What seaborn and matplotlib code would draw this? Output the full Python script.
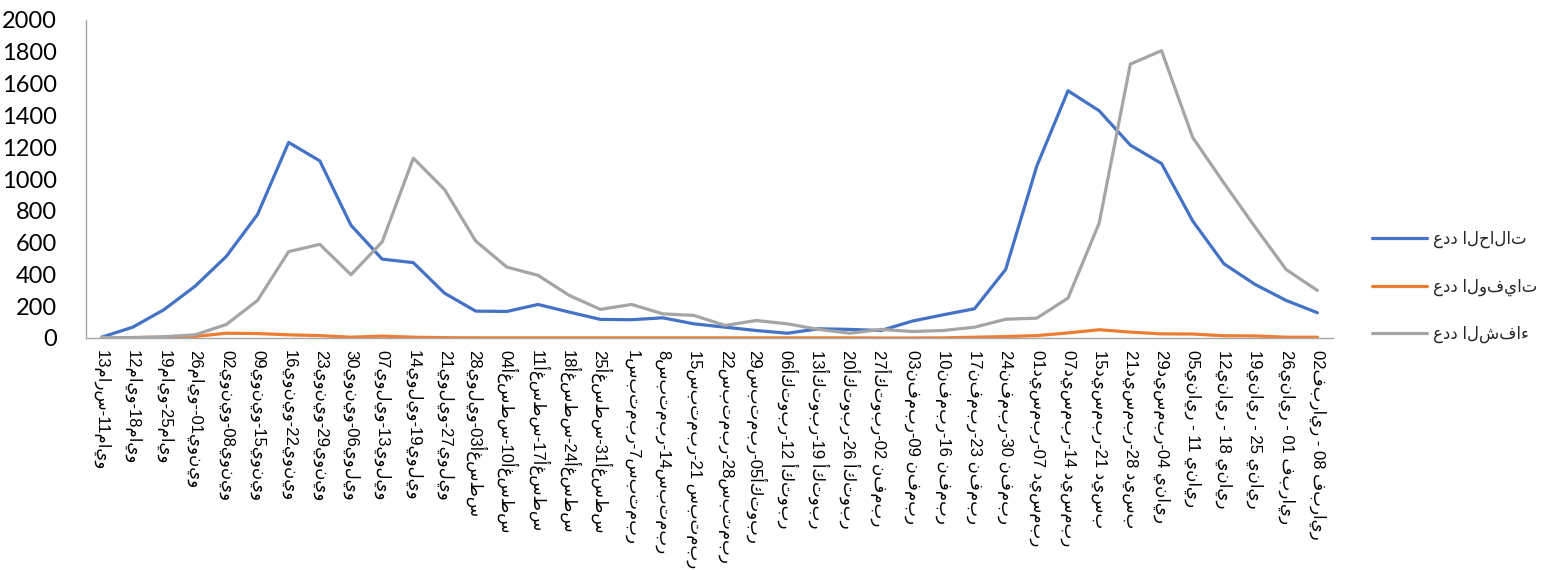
import matplotlib
matplotlib.use("Agg")
import matplotlib.pyplot as plt
import seaborn as sns
import pandas as pd

weeks = [
    "13مارس-11مايو", "12مايو-18مايو", "19مايو-25مايو", "26مايو--01يونيو",
    "02يونيو-08يونيو", "09يونيو-15يونيو", "16يونيو-22يونيو", "23يونيو-29يونيو",
    "30يونيو-06يوليو", "07يوليو-13يوليو", "14يوليو-19يوليو", "21يوليو-27يوليو",
    "28يوليو-03أغسطس", "04أغسطس-10أغسطس", "11أغسطس-17أغسطس", "18أغسطس-24أغسطس",
    "25أغسطس-31أغسطس", "1سبتمبر-7سبتمبر", "8سبتمبر-14سبتمبر", "15سبتمبر-21 سبتمبر",
    "22سبتمبر-28سبتمبر", "29سبتمبر-05أكتوبر", "06أكتوبر-12 أكتوبر", "13أكتوبر-19 أكتوبر",
    "20أكتوبر-26 أكتوبر", "27أكتوبر-02 نفمبر", "03نفمبر-09 نفمبر", "10نفمبر-16 نفمبر",
    "17نفمبر-23 نفمبر", "24نفمبر-30 نفمبر", "01ديسمبر-07 ديسمبر", "07ديسمبر-14 ديسمبر",
    "15ديسمبر-21 ديسب", "21ديسمبر-28 ديسب", "29ديسمبر-04 يناير", "05يناير - 11 يناير",
    "12يناير - 18 يناير", "19يناير - 25 يناير", "26يناير - 01 فبراير", "02فبراير - 08 فبراير",
]

cases = [5, 68, 178, 326, 513, 776, 1230, 1114, 709, 496,
         474, 282, 169, 167, 211, 163, 117, 115, 127, 89,
         68, 47, 30, 58, 54, 47, 106, 146, 184, 431,
         1082, 1555, 1429, 1213, 1097, 736, 467, 337, 236, 159]

deaths = [0, 3, 5, 10, 30, 28, 20, 15, 5, 12,
          5, 2, 1, 1, 1, 1, 1, 1, 1, 1,
          1, 1, 1, 1, 1, 0, 0, 1, 5, 9,
          15, 32, 52, 37, 26, 25, 14, 13, 5, 5]

recovered = [3, 2, 8, 20, 85, 236, 543, 589, 398, 604,
             1131, 934, 610, 446, 394, 268, 180, 211, 152, 142,
             79, 110, 89, 54, 30, 54, 41, 47, 68, 118,
             125, 251, 723, 1723, 1807, 1261, 975, 698, 430, 299]

series_names = ["عدد الحالات", "عدد الوفيات", "عدد الشفاء"]
series_colors = ["#4472C4", "#ED7D31", "#A5A5A5"]
y_ticks = list(range(0, 2001, 200))

df = pd.DataFrame({
    "week": weeks * 3,
    "value": cases + deaths + recovered,
    "series": [n for n in series_names for _ in weeks],
})

sns.set_theme(style="white")
plt.rcParams["font.family"] = ["Liberation Sans", "DejaVu Sans"]

fig = plt.figure(figsize=(15.44, 5.70), dpi=100)
ax = fig.add_axes([86 / 1544, 1 - 338 / 570, (1333 - 86) / 1544, (338 - 20) / 570])

sns.lineplot(data=df, x="week", y="value", hue="series", hue_order=series_names,
             palette=series_colors, sort=False, linewidth=2.3, ax=ax, legend=True)

ax.set_xlim(-0.5, len(weeks) - 0.5)
ax.set_ylim(0, 2000)
ax.set_yticks(y_ticks)
ax.set_yticklabels([str(t) for t in y_ticks], fontsize=17, family=["Lato", "DejaVu Sans"])
ax.set_xticks(range(len(weeks)))
ax.set_xticklabels(weeks, rotation=-90, ha="center", va="top", fontsize=12,
                   family=["Liberation Sans", "DejaVu Sans"])
ax.tick_params(axis="y", length=0, pad=21, colors="black")
ax.tick_params(axis="x", length=0, pad=9, colors="black")
ax.set_xlabel("")
ax.set_ylabel("")
for s in ["top", "right"]:
    ax.spines[s].set_visible(False)
for s in ["left", "bottom"]:
    ax.spines[s].set_color("#A6A6A6")
    ax.spines[s].set_linewidth(1.0)

handles, labels = ax.get_legend_handles_labels()
ax.get_legend().remove()
fig.legend(handles, labels, loc="center left", bbox_to_anchor=(1372 / 1544, 1 - 287 / 570),
           frameon=False, handlelength=3.3, handletextpad=0.35,
           labelspacing=1.8, borderpad=0, borderaxespad=0,
           prop={"family": ["Liberation Sans", "DejaVu Sans"], "size": 12})

fig.savefig("out.png", dpi=100, facecolor="white")
